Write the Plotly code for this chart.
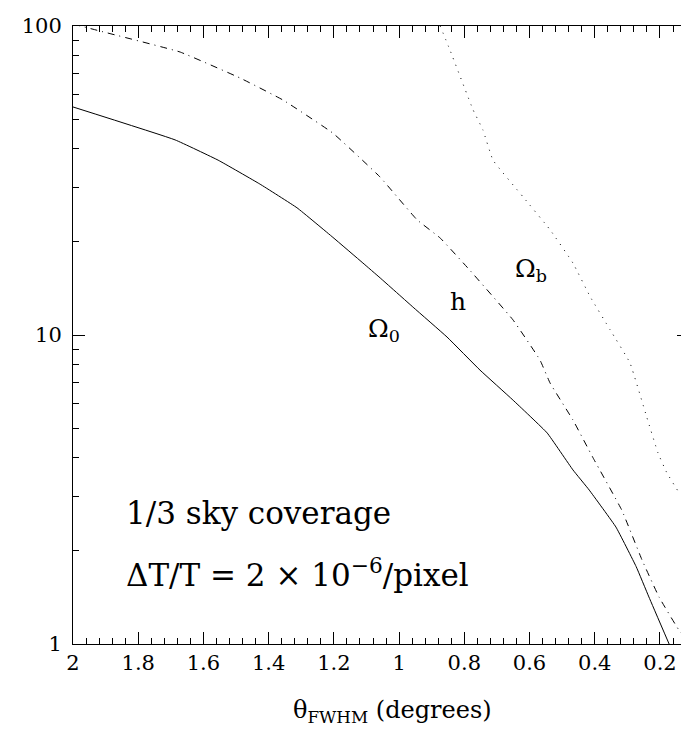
import plotly.graph_objects as go

# beam size (degrees) vs. relative error
omega0_x = [2.0, 1.687, 1.555, 1.427, 1.313, 1.203, 1.111, 1.058, 0.957, 0.853,
            0.752, 0.651, 0.546, 0.467, 0.417, 0.335, 0.273, 0.234, 0.172]
omega0_y = [54.7, 42.8, 36.8, 30.8, 25.8, 20.7, 17.1, 15.3, 12.3, 9.85,
            7.70, 6.16, 4.82, 3.66, 3.15, 2.39, 1.78, 1.42, 1.0]

h_x = [2.0, 1.917, 1.672, 1.488, 1.356, 1.203, 1.059, 0.945, 0.874, 0.783,
       0.651, 0.568, 0.537, 0.467, 0.405, 0.317, 0.255, 0.203, 0.142, 0.12]
h_y = [101.5, 96.3, 82.4, 67.9, 57.6, 45.0, 32.5, 23.6, 20.6, 16.2,
       11.2, 8.3, 6.99, 5.31, 4.0, 2.71, 1.87, 1.42, 1.11, 1.05]

omegab_x = [0.874, 0.844, 0.773, 0.743, 0.712, 0.620, 0.537, 0.467, 0.414,
            0.353, 0.292, 0.240, 0.206, 0.180, 0.142, 0.111]
omegab_y = [100.0, 83.6, 53.5, 46.1, 36.8, 28.0, 21.9, 17.1, 13.3,
            10.4, 8.12, 5.4, 4.15, 3.6, 3.1, 2.95]

x_ticks = [2, 1.8, 1.6, 1.4, 1.2, 1, 0.8, 0.6, 0.4, 0.2]
x_labels = ["2", "1.8", "1.6", "1.4", "1.2", "1", "0.8", "0.6", "0.4", "0.2"]
y_ticks = [1, 10, 100]
y_labels = ["1", "10", "100"]

FONT = "DejaVu Serif"

fig = go.Figure()
line = dict(color="black", width=1, shape="spline", smoothing=0.3)
fig.add_trace(go.Scatter(x=omega0_x, y=omega0_y, mode="lines", line=line))
fig.add_trace(go.Scatter(x=h_x, y=h_y, mode="lines",
                         line=dict(line, dash="7px,5px,1px,5px")))
fig.add_trace(go.Scatter(x=omegab_x, y=omegab_y, mode="lines",
                         line=dict(line, dash="1px,6px")))

x_minor = [round(0.12 + 0.04 * i, 2) for i in range(48)]
y_minor = [m * 10 ** e for e in (0, 1) for m in range(2, 10)]

axis_common = dict(ticks="inside", tickcolor="black", tickwidth=1,
                   showline=True, linecolor="black", linewidth=1, mirror="ticks",
                   showgrid=False, zeroline=False, automargin=False)
minor_common = dict(tickmode="array", ticks="inside", ticklen=6,
                    tickcolor="black", tickwidth=1, showgrid=False)

fig.update_layout(
    xaxis=dict(axis_common, range=[2, 0.111], tickvals=x_ticks, ticktext=x_labels,
               ticklen=12, tickfont=dict(family=FONT, size=21, color="black"),
               minor=dict(minor_common, tickvals=x_minor)),
    yaxis=dict(axis_common, type="log", range=[0, 2], tickvals=y_ticks,
               ticktext=y_labels, ticklen=12, ticklabelstandoff=6,
               tickfont=dict(family=FONT, size=21, color="black"),
               minor=dict(minor_common, tickvals=y_minor)),
)

def note(text, x, y, size, anchor="center"):
    fig.add_annotation(text=text, x=x, y=y, xref="paper", yref="paper",
                       xanchor=anchor, yanchor="middle", showarrow=False,
                       font=dict(family=FONT, size=size, color="black"))

# plot area on the page: x 73..689 px, y 26..644 px
W, L = 616, 73
H, T = 618, 26
px = lambda p: (p - L) / W
py = lambda p: (T + H - p) / H

note("Ω<sub>0</sub>", px(384), py(330), 25)
note("h", px(458), py(301), 25)
note("Ω<sub>b</sub>", px(531), py(270), 25)
note("1/3 sky coverage", px(124), py(513), 31, anchor="left")
note("ΔT/T = 2 × 10<sup>−6</sup>/pixel", px(124), py(573), 31, anchor="left")
note("θ<sub>FWHM</sub> (degrees)", px(393), py(711), 24)

# the page body adds an 8px margin, so the figure is 8px smaller than the window
fig.update_layout(width=681, height=728, showlegend=False,
                  margin=dict(l=65, r=0, t=18, b=92),
                  plot_bgcolor="white", paper_bgcolor="white")

fig.write_html("out.html")
